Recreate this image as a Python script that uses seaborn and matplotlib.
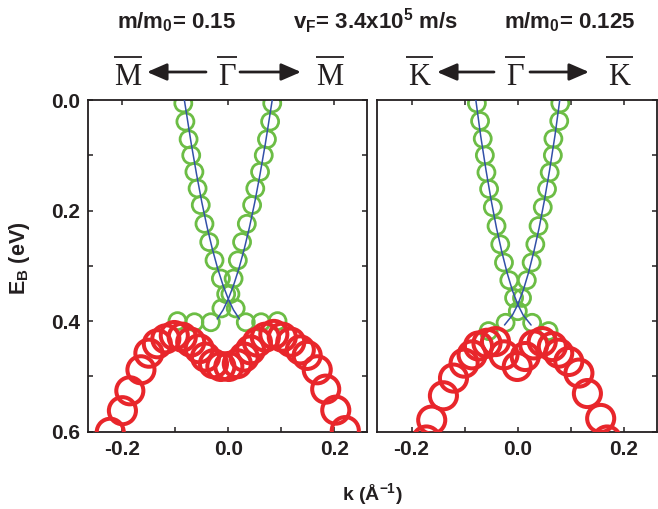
import numpy as np
import pandas as pd
import matplotlib
matplotlib.use("Agg")
import matplotlib.pyplot as plt
import seaborn as sns
from matplotlib.patches import FancyArrowPatch, ArrowStyle
from matplotlib.lines import Line2D
from matplotlib.ticker import MultipleLocator, FormatStrFormatter

# ---------------- data ----------------
# Gamma-M panel
red_k_M = [-0.223, -0.200, -0.186, -0.165, -0.150, -0.134, -0.118, -0.102, -0.087, -0.071,
           -0.055, -0.043, -0.028, -0.014, 0.001, 0.017, 0.030, 0.042, 0.055, 0.070,
           0.086, 0.102, 0.118, 0.136, 0.149, 0.168, 0.184, 0.203, 0.221]
red_E_M = [0.601, 0.562, 0.526, 0.488, 0.458, 0.441, 0.432, 0.426, 0.429, 0.438,
           0.450, 0.465, 0.477, 0.482, 0.482, 0.477, 0.465, 0.452, 0.438, 0.429,
           0.424, 0.429, 0.438, 0.452, 0.462, 0.488, 0.523, 0.561, 0.598]

green_k_M = [-0.085, -0.081, -0.075, -0.070, -0.064, -0.058, -0.052, -0.045, -0.036, -0.026, -0.014, -0.004,
             0.083, 0.079, 0.073, 0.067, 0.060, 0.051, 0.045, 0.035, 0.026, 0.018, 0.010, 0.004,
             -0.013, 0.014, -0.033, 0.033, -0.064, 0.062, -0.096, 0.093]
green_E_M = [0.006, 0.039, 0.071, 0.100, 0.130, 0.160, 0.190, 0.224, 0.257, 0.290, 0.323, 0.351,
             0.006, 0.039, 0.071, 0.100, 0.130, 0.160, 0.190, 0.224, 0.257, 0.290, 0.323, 0.351,
             0.377, 0.377, 0.402, 0.402, 0.402, 0.402, 0.400, 0.400]

fit1_k_M = [-0.083, -0.070, -0.060, -0.050, -0.040, -0.030, -0.020, -0.010, 0.000, 0.010, 0.021]
fit1_E_M = [0.000, 0.079, 0.134, 0.185, 0.230, 0.270, 0.305, 0.335, 0.360, 0.380, 0.396]
fit2_k_M = [0.083, 0.070, 0.060, 0.050, 0.040, 0.030, 0.020, 0.010, 0.000, -0.010, -0.021]
fit2_E_M = [0.000, 0.079, 0.134, 0.185, 0.230, 0.270, 0.305, 0.335, 0.360, 0.380, 0.396]

# Gamma-K panel
red_k_K = [-0.172, -0.162, -0.140, -0.121, -0.101, -0.086, -0.074, -0.058, -0.042, -0.026,
           -0.001, 0.014, 0.030, 0.046, 0.065, 0.077, 0.096, 0.115, 0.131, 0.156, 0.168]
red_E_K = [0.615, 0.579, 0.535, 0.503, 0.476, 0.461, 0.445, 0.440, 0.437, 0.461,
           0.482, 0.464, 0.443, 0.437, 0.446, 0.458, 0.473, 0.494, 0.531, 0.576, 0.615]

green_k_K = [-0.077, -0.071, -0.066, -0.062, -0.059, -0.054, -0.047, -0.040, -0.033, -0.026, -0.016, -0.007,
             0.080, 0.078, 0.067, 0.066, 0.060, 0.055, 0.047, 0.039, 0.033, 0.026, 0.017, 0.008,
             0.000, -0.023, 0.027, -0.055, 0.058]
green_E_K = [0.006, 0.038, 0.070, 0.100, 0.131, 0.161, 0.194, 0.228, 0.261, 0.294, 0.326, 0.358,
             0.006, 0.038, 0.070, 0.100, 0.131, 0.161, 0.194, 0.228, 0.261, 0.294, 0.326, 0.358,
             0.382, 0.403, 0.403, 0.418, 0.418]

fit1_k_K = [-0.079, -0.070, -0.060, -0.050, -0.040, -0.030, -0.020, -0.010, 0.000, 0.010, 0.025]
fit1_E_K = [0.000, 0.064, 0.126, 0.182, 0.232, 0.275, 0.313, 0.345, 0.370, 0.389, 0.407]
fit2_k_K = [0.079, 0.070, 0.060, 0.050, 0.040, 0.030, 0.020, 0.010, 0.000, -0.010, -0.025]
fit2_E_K = [0.000, 0.064, 0.126, 0.182, 0.232, 0.275, 0.313, 0.345, 0.370, 0.389, 0.407]

x_ticks = [-0.2, 0.0, 0.2]
y_ticks = [0.0, 0.2, 0.4, 0.6]

# ---------------- style ----------------
RED = "#e8262b"
GREEN = "#6cbd45"
BLUE = "#3350a8"
INK = "#231f20"

sns.set_theme(style="ticks")
plt.rcParams['font.family'] = ['Liberation Sans', 'DejaVu Sans']
plt.rcParams['font.weight'] = 'bold'
plt.rcParams['axes.unicode_minus'] = False
plt.rcParams['mathtext.fontset'] = 'custom'
plt.rcParams['mathtext.rm'] = 'Liberation Sans:bold'
plt.rcParams['mathtext.bf'] = 'Liberation Sans:bold'
plt.rcParams['mathtext.it'] = 'Liberation Sans:bold'

W, H = 658, 509
fig = plt.figure(figsize=(W / 100, H / 100), dpi=100)

top_px, bot_px = 100, 431.7
axL = fig.add_axes([88 / W, 1 - bot_px / H, (367 - 88) / W, (bot_px - top_px) / H])
axR = fig.add_axes([377 / W, 1 - bot_px / H, (657 - 377) / W, (bot_px - top_px) / H])

panels = [
    (axL, red_k_M, red_E_M, green_k_M, green_E_M, [(fit1_k_M, fit1_E_M), (fit2_k_M, fit2_E_M)]),
    (axR, red_k_K, red_E_K, green_k_K, green_E_K, [(fit1_k_K, fit1_E_K), (fit2_k_K, fit2_E_K)]),
]

for ax, rk, rE, gk, gE, fits in panels:
    gdf = pd.DataFrame({"k": gk, "E": gE})
    sns.scatterplot(data=gdf, x="k", y="E", ax=ax, s=150, facecolors="none",
                    edgecolor=GREEN, linewidth=2.0, legend=False, zorder=2)
    for fk, fE in fits:
        fdf = pd.DataFrame({"k": fk, "E": fE})
        sns.lineplot(data=fdf, x="k", y="E", ax=ax, sort=False, estimator=None,
                     color=BLUE, linewidth=1.1, zorder=3)
    rdf = pd.DataFrame({"k": rk, "E": rE})
    sns.scatterplot(data=rdf, x="k", y="E", ax=ax, s=380, facecolors="none",
                    edgecolor=RED, linewidth=2.9, legend=False, zorder=4)

    ax.set_xlim(-0.265, 0.262)
    ax.set_ylim(0.6, 0.0)
    ax.set_xticks(x_ticks)
    ax.set_yticks(y_ticks)
    ax.xaxis.set_minor_locator(MultipleLocator(0.1))
    ax.yaxis.set_minor_locator(MultipleLocator(0.1))
    ax.xaxis.set_major_formatter(FormatStrFormatter('%.1f'))
    ax.yaxis.set_major_formatter(FormatStrFormatter('%.1f'))
    ax.tick_params(which='both', direction='in', top=True, right=True,
                   length=3.5, width=1.1, color=INK)
    ax.tick_params(which='major', labelsize=15, labelcolor=INK, pad=6)
    for lab in ax.get_xticklabels() + ax.get_yticklabels():
        lab.set_fontweight('bold')
    for sp in ax.spines.values():
        sp.set_linewidth(1.3)
        sp.set_color(INK)
    ax.set_xlabel("")
    ax.set_ylabel("")

axR.tick_params(which='both', left=False, labelleft=False)

# axis labels
fig.text(20 / W, 1 - 258 / H, r"E$\mathregular{_B}$ (eV)", rotation=90, ha='center', va='center',
         fontsize=15.5, fontweight='bold', color=INK)
fig.text(372 / W, 1 - 494 / H, r"k (Å$\mathregular{^{-1}}$)", ha='center', va='center',
         fontsize=14, fontweight='bold', color=INK)

# top annotations
for x, s in [(177, r"m/m$\mathregular{_0}$= 0.15"),
             (375, r"v$\mathregular{_F}$= 3.4x10$\mathregular{^5}$ m/s"),
             (570, r"m/m$\mathregular{_0}$= 0.125")]:
    fig.text(x / W, 1 - 28.5 / H, s, ha='center', va='baseline', fontsize=16,
             fontweight='bold', color=INK)

# high-symmetry point labels (serif letters with overbars)
for x, s, bw in [(127.5, "M", 28), (227, "Γ", 20), (330, "M", 28),
                 (419, "K", 27), (515, "Γ", 20), (619, "K", 27)]:
    fig.text(x / W, 1 - 85 / H, s, ha='center', va='baseline', fontsize=22,
             fontweight='normal', family=['Liberation Serif', 'DejaVu Serif'], color=INK)
    fig.add_artist(Line2D([(x - bw / 2) / W, (x + bw / 2) / W], [1 - 57 / H, 1 - 57 / H],
                          transform=fig.transFigure, color=INK, linewidth=1.3,
                          solid_capstyle='butt'))

style = ArrowStyle('-|>', head_length=0.6, head_width=0.26)
for x0, x1 in [(206, 147), (240, 301), (494, 437), (530, 589)]:
    arr = FancyArrowPatch((x0 / W, 1 - 72 / H), (x1 / W, 1 - 72 / H),
                          transform=fig.transFigure, arrowstyle=style,
                          mutation_scale=20, linewidth=2.0, color=INK,
                          shrinkA=0, shrinkB=0)
    fig.add_artist(arr)

fig.savefig("out.png", dpi=100)
